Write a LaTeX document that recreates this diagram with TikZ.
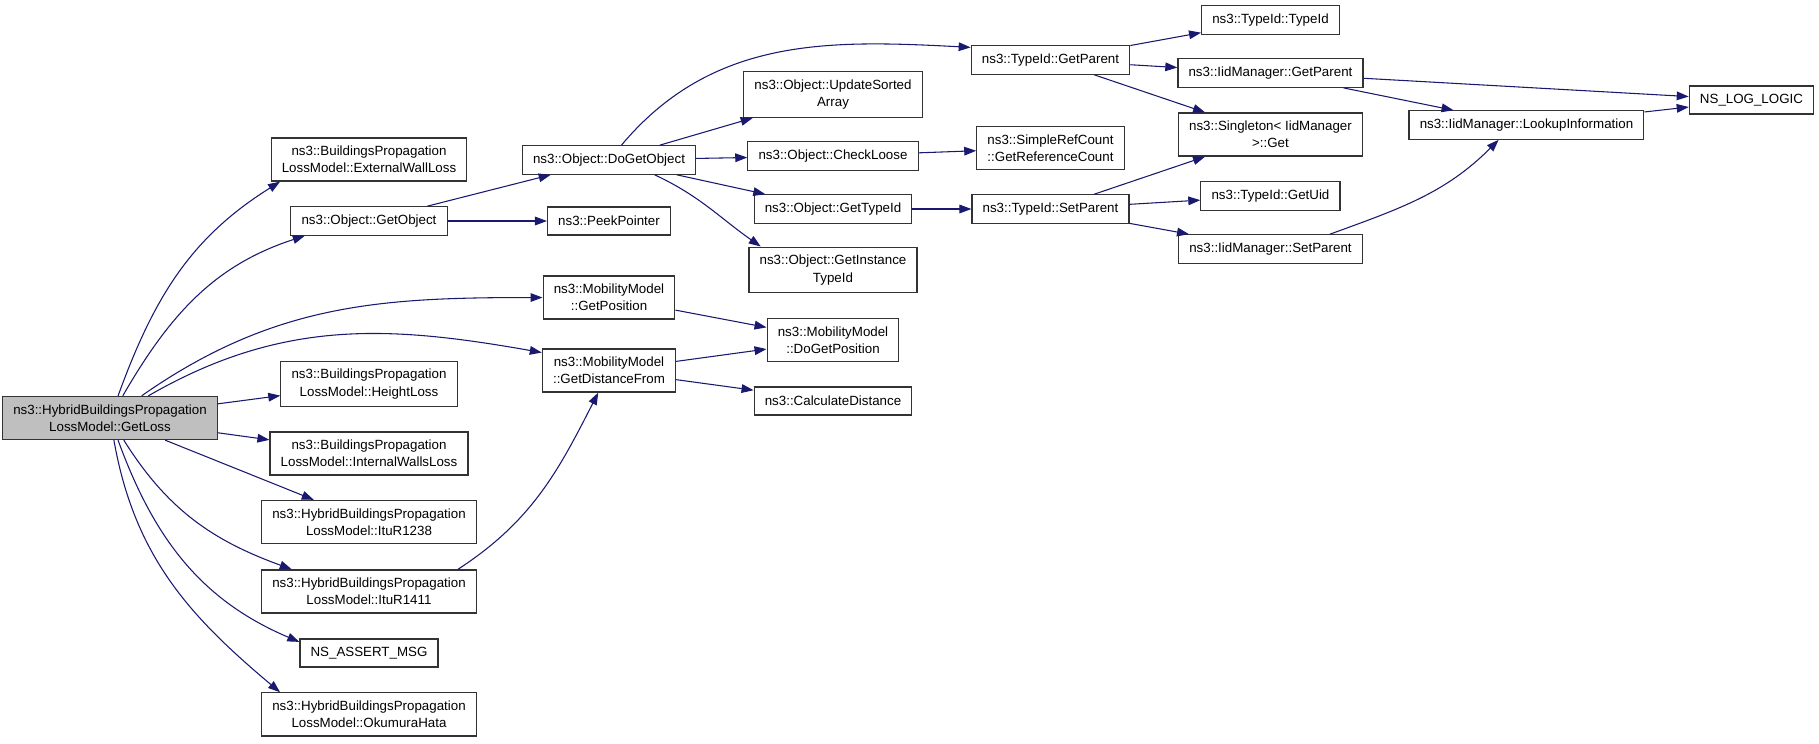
\documentclass[tikz,border=0pt]{standalone}
\usepackage{fontspec}
\setmainfont{Liberation Sans}
\usetikzlibrary{positioning,arrows.meta}
\definecolor{navyline}{RGB}{25,25,112}
\begin{document}
\begin{tikzpicture}[node distance = 1cm, on grid,
        fn/.style = {draw=black!80, line width=0.9pt, align=center,
            font=\fontsize{10}{13}\selectfont, minimum height=21pt,
            inner xsep=8pt, inner ysep=6pt},
        every edge/.style = {draw=navyline, line width=0.8pt,
            -{Triangle[length=9pt,width=6.5pt]}}]
        \useasboundingbox (-82.5pt,-243.75pt) rectangle (1281.75pt,313.5pt);
        \node [fn, fill=black!25]                                   (getloss)       {ns3::HybridBuildingsPropagation\\LossModel::GetLoss};
        \node [fn, above right= 147.75pt and 194.25pt of getloss]   (getobject)     {ns3::Object::GetObject};
        \node [fn, above= 46.1pt of getobject]                      (extwall)       {ns3::BuildingsPropagation\\LossModel::ExternalWallLoss};
        \node [fn, below= 122.25pt of getobject]                    (heightloss)    {ns3::BuildingsPropagation\\LossModel::HeightLoss};
        \node [fn, below= 52.1pt of heightloss]                     (intwalls)      {ns3::BuildingsPropagation\\LossModel::InternalWallsLoss};
        \node [fn, below= 51.4pt of intwalls]                       (itur1238)      {ns3::HybridBuildingsPropagation\\LossModel::ItuR1238};
        \node [fn, below= 52.1pt of itur1238]                       (itur1411)      {ns3::HybridBuildingsPropagation\\LossModel::ItuR1411};
        \node [fn, below= 46.1pt of itur1411]                       (assert)        {NS\_ASSERT\_MSG};
        \node [fn, below= 46.1pt of assert]                         (okumura)       {ns3::HybridBuildingsPropagation\\LossModel::OkumuraHata};
        \node [fn, right= 180pt of getobject]                       (peek)          {ns3::PeekPointer};
        \node [fn, above= 45.75pt of peek]                          (dogetobject)   {ns3::Object::DoGetObject};
        \node [fn, below= 57.4pt of peek]                           (getposition)   {ns3::MobilityModel\\::GetPosition};
        \node [fn, below= 54.75pt of getposition]                   (getdistance)   {ns3::MobilityModel\\::GetDistanceFrom};
        \node [fn, above right= 3pt and 168pt of dogetobject]       (checkloose)    {ns3::Object::CheckLoose};
        \node [fn, above= 46.1pt of checkloose]                     (updatesorted)  {ns3::Object::UpdateSorted\\Array};
        \node [fn, below= 39.75pt of checkloose]                    (gettypeid)     {ns3::Object::GetTypeId};
        \node [fn, below= 45.75pt of gettypeid]                     (getinstance)   {ns3::Object::GetInstance\\TypeId};
        \node [fn, below= 52.5pt of getinstance]                    (dogetposition) {ns3::MobilityModel\\::DoGetPosition};
        \node [fn, below= 45.75pt of dogetposition]                 (calcdist)      {ns3::CalculateDistance};
        \node [fn, right= 163.1pt of gettypeid]                     (tsetparent)    {ns3::TypeId::SetParent};
        \node [fn, above= 45.75pt of tsetparent]                    (simpleref)     {ns3::SimpleRefCount\\::GetReferenceCount};
        \node [fn, above= 66pt of simpleref]                        (tgetparent)    {ns3::TypeId::GetParent};
        \node [fn, above right= 9.75pt and 165pt of tsetparent]     (getuid)        {ns3::TypeId::GetUid};
        \node [fn, above= 46.1pt of getuid]                         (singleton)     {ns3::Singleton< IidManager\\>::Get};
        \node [fn, above= 46.1pt of singleton]                      (igetparent)    {ns3::IidManager::GetParent};
        \node [fn, above= 39.75pt of igetparent]                    (typeid)        {ns3::TypeId::TypeId};
        \node [fn, below= 39.75pt of getuid]                        (isetparent)    {ns3::IidManager::SetParent};
        \node [fn, above right= 7.1pt and 192pt of singleton]       (lookup)        {ns3::IidManager::LookupInformation};
        \node [fn, above right= 18.75pt and 168.75pt of lookup]     (nslog)         {NS\_LOG\_LOGIC};
        \path (getloss)         edge [out=70, in=-148]  (extwall.194);
        \path (getloss)         edge [out=60, in=-162]  (getobject.193);
        \path (getloss)         edge [out=35, in=180]   (getposition);
        \path (getloss)         edge [out=30, in=170]   (getdistance.165);
        \path (getloss)         edge                    (heightloss);
        \path (getloss)         edge                    (intwalls);
        \path (getloss)         edge                    (itur1238);
        \path (getloss)         edge [out=-58, in=160]  (itur1411.164);
        \path (getloss)         edge [out=-70, in=157]  (assert.171);
        \path (getloss)         edge [out=-80, in=140]  (okumura.166);
        \path (getobject)       edge                    (dogetobject);
        \path (getobject)       edge                    (peek);
        \path (dogetobject)     edge [out=50, in=177]   (tgetparent.171);
        \path (dogetobject)     edge                    (updatesorted);
        \path (dogetobject)     edge                    (checkloose);
        \path (dogetobject)     edge                    (gettypeid);
        \path (dogetobject.-18) edge [out=-25, in=145]  (getinstance.162);
        \path (checkloose)      edge                    (simpleref);
        \path (gettypeid)       edge                    (tsetparent);
        \path (tgetparent)      edge                    (typeid);
        \path (tgetparent)      edge                    (igetparent);
        \path (tgetparent)      edge                    (singleton);
        \path (tsetparent)      edge                    (singleton);
        \path (tsetparent)      edge                    (getuid);
        \path (tsetparent)      edge                    (isetparent);
        \path (igetparent)      edge                    (nslog);
        \path (igetparent)      edge                    (lookup);
        \path (lookup)          edge                    (nslog);
        \path (isetparent.14)   edge [out=20, in=-135]  (lookup.-152);
        \path (getposition)     edge                    (dogetposition);
        \path (getdistance)     edge                    (dogetposition);
        \path (getdistance)     edge                    (calcdist);
        \path (itur1411.14)     edge [out=33, in=-117]  (getdistance.-116);
    \end{tikzpicture}
\end{document}
